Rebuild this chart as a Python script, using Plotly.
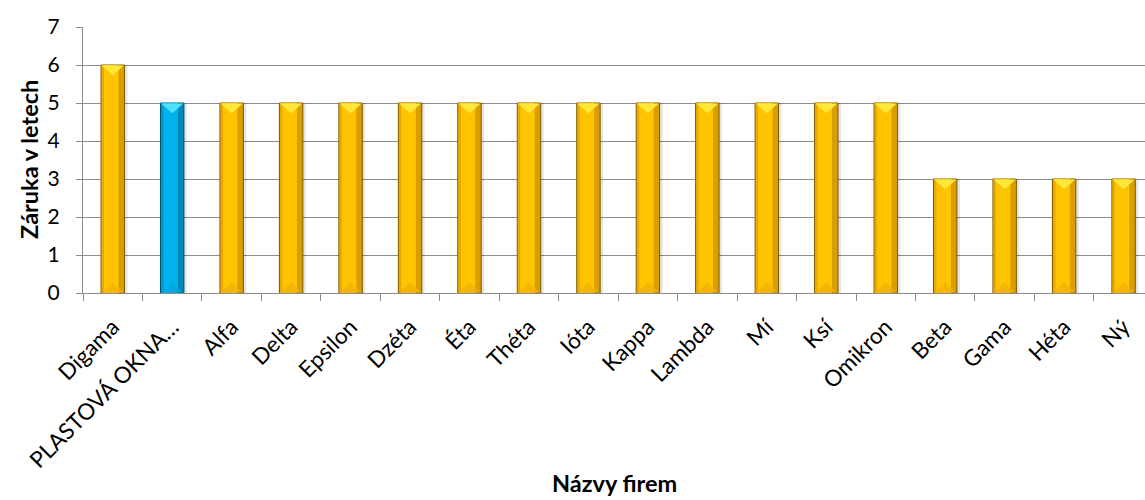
import plotly.graph_objects as go

# Data: warranty length (years) per window company
firms = ["Digama", "PLASTOVÁ OKNA…", "Alfa", "Delta", "Epsilon", "Dzéta", "Éta",
         "Théta", "Ióta", "Kappa", "Lambda", "Mí", "Ksí", "Omikron",
         "Beta", "Gama", "Héta", "Ný"]
warranty = [6, 5, 5, 5, 5, 5, 5, 5, 5, 5, 5, 5, 5, 5, 3, 3, 3, 3]
highlighted = "PLASTOVÁ OKNA…"

y_ticks = [0, 1, 2, 3, 4, 5, 6, 7]

# Palettes for the bevelled bar look (gold for competitors, blue for highlighted firm)
gold = dict(edge="#7A5A00", left="#EBA800", body="#FFC400", right="#D99E00",
            top="#FFE83A", bottom="#F2B000")
blue = dict(edge="#00506E", left="#0098CF", body="#00B2EE", right="#0088BA",
            top="#4FE0FF", bottom="#00A4DC")


def pal(key):
    return [blue[key] if f == highlighted else gold[key] for f in firms]


BW = 0.394          # bar width in category units
HALF = BW / 2
TRI = 0.27          # depth of the bevel triangles in value units

fig = go.Figure()

# soft shadow to the right of each bar
fig.add_bar(x=firms, y=warranty, width=BW, offset=-HALF + 0.05,
            marker=dict(color="rgba(0,0,0,0.10)", line=dict(width=0)),
            hoverinfo="skip", showlegend=False)
# outer bar with dark outline
fig.add_bar(x=firms, y=warranty, width=BW, offset=-HALF,
            marker=dict(color=pal("right"), line=dict(color=pal("edge"), width=1)),
            showlegend=False)
# left bevel strip
fig.add_bar(x=firms, y=warranty, width=0.05, offset=-HALF + 0.01,
            marker=dict(color=pal("left"), line=dict(width=0)),
            hoverinfo="skip", showlegend=False)
# main face
fig.add_bar(x=firms, y=warranty, width=BW - 0.15, offset=-HALF + 0.05,
            marker=dict(color=pal("body"), line=dict(width=0)),
            hoverinfo="skip", showlegend=False)

fig.update_layout(barmode="overlay")

# bevel triangles at the top and bottom of each bar
shapes = []
for i, (f, v) in enumerate(zip(firms, warranty)):
    top = blue["top"] if f == highlighted else gold["top"]
    bot = blue["bottom"] if f == highlighted else gold["bottom"]
    x0, x1 = i - HALF + 0.01, i + HALF - 0.01
    shapes.append(dict(type="path", xref="x", yref="y",
                       path=f"M {x0},{v - 0.01} L {x1},{v - 0.01} L {i},{v - TRI} Z",
                       fillcolor=top, line=dict(width=0), layer="above"))
    shapes.append(dict(type="path", xref="x", yref="y",
                       path=f"M {x0},0.01 L {x1},0.01 L {i},{TRI} Z",
                       fillcolor=bot, line=dict(width=0), layer="above", opacity=0.8))

grid = "#8C8C8C"
font = "Lato"

fig.update_layout(
    width=1145, height=500,
    margin=dict(l=83, r=0, t=27, b=207, autoexpand=False),
    paper_bgcolor="white", plot_bgcolor="white",
    font=dict(family=font, size=20, color="#000000"),
    shapes=shapes,
    xaxis=dict(type="category", categoryorder="array", categoryarray=firms,
               range=[-0.5, 17.36], tickson="boundaries",
               ticks="outside", ticklen=7, tickcolor=grid, tickwidth=1,
               showline=True, linecolor=grid, linewidth=1,
               showgrid=False, tickangle=-45, ticklabelstandoff=11,
               tickfont=dict(family=font, size=22.5, color="#000000")),
    yaxis=dict(range=[0, 7], tickvals=y_ticks, ticks="outside", ticklen=6,
               tickcolor=grid, showline=True, linecolor=grid, linewidth=1,
               showgrid=True, gridcolor=grid, gridwidth=1, zeroline=False,
               ticklabelstandoff=12,
               tickfont=dict(family=font, size=21, color="#000000")),
    annotations=[
        dict(text="<b>Názvy firem</b>", xref="paper", yref="paper",
             x=0.5, y=-0.716, xanchor="center", yanchor="middle", showarrow=False,
             font=dict(family=font, size=23.5, color="#000000")),
        dict(text="<b>Záruka v letech</b>", xref="paper", yref="paper",
             x=-0.0508, y=0.5, xanchor="center", yanchor="middle", showarrow=False,
             textangle=-90, font=dict(family=font, size=23.5, color="#000000")),
    ],
)

fig.write_html("out.html")
